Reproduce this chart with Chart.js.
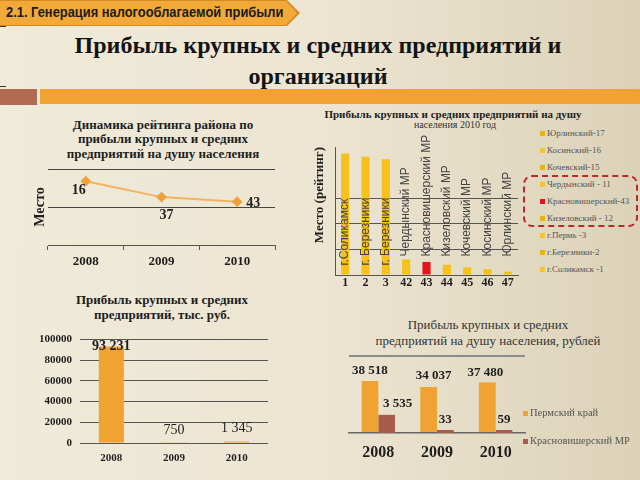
<!DOCTYPE html>
<html>
<head>
<meta charset="utf-8">
<script src="https://cdn.jsdelivr.net/npm/chart.js@4.4.0/dist/chart.umd.min.js"></script>
<style>
  body {
    margin: 0; width: 640px; height: 480px; overflow: hidden; position: relative;
    font-family: "Liberation Serif", serif;
    background: linear-gradient(to right, #f0ead9 0%, #ece5d2 50%, #dcd2b8 100%);
  }
  .abs { position: absolute; }
  .tab-out { left: 0; top: 0; width: 300px; height: 26px; background: #d38c25;
    clip-path: polygon(0 0, 287px 0, 300px 13px, 287px 26px, 0 26px); }
  .tab-in { left: 0; top: 1px; width: 298px; height: 24px; background: #f2a937;
    clip-path: polygon(0 0, 286px 0, 297px 12px, 286px 24px, 0 24px); }
  .tab-text { left: 6px; top: 4px; font: bold 14px "Liberation Sans", sans-serif; color: #1c1c1c; white-space: nowrap;
    transform: scaleX(0.92); transform-origin: left top; }
  .title { left: 0; width: 636px; top: 30px; text-align: center; font: bold 24px/31px "Liberation Serif", serif; color: #141414; }
  .ctitle { text-align: center; color: #1e1e1e; white-space: nowrap; }
  .lg-row { display: flex; align-items: center; white-space: nowrap; color: #555; }
  .lg-box { display: inline-block; width: 5px; height: 5px; margin-right: 2px; }
  canvas { position: absolute; }
</style>
</head>
<body>
<div class="abs tab-out"></div>
<div class="abs tab-in"></div>
<div class="abs tab-text">2.1. Генерация налогооблагаемой прибыли</div>
<div class="abs" style="left:0;top:26px;width:6px;height:1px;background:#333"></div>
<div class="abs" style="left:0;top:86px;width:6px;height:1px;background:#333"></div>
<div class="abs title">Прибыль крупных и средних предприятий и<br>организаций</div>
<div class="abs" style="left:0;top:89px;width:37px;height:16px;background:#b06a52"></div>
<div class="abs" style="left:40px;top:89px;width:600px;height:15px;background:#f0a232"></div>

<div class="abs ctitle" style="left:40px;width:246px;top:118px;font:bold 13px/14.3px 'Liberation Serif',serif">Динамика рейтинга района по<br>прибыли крупных и средних<br>предприятий на душу населения</div>
<div class="abs ctitle" style="left:300px;width:306px;top:108px;font:bold 11px/13px 'Liberation Serif',serif">Прибыль крупных и средних предприятий на душу</div>
<div class="abs ctitle" style="left:300px;width:310px;top:119px;font:10px/12px 'Liberation Serif',serif;color:#333">населения 2010 год</div>
<div class="abs ctitle" style="left:40px;width:244px;top:292px;font:bold 13px/15px 'Liberation Serif',serif">Прибыль крупных и средних<br>предприятий, тыс. руб.</div>
<div class="abs ctitle" style="left:370px;width:236px;top:317px;font:13px/16px 'Liberation Serif',serif;color:#333">Прибыль крупных и средних<br>предприятий на душу населения, рублей</div>

<canvas id="rankChart" width="270" height="115" style="left:20px;top:160px"></canvas>
<canvas id="placeChart" width="223" height="195" style="left:300px;top:100px"></canvas>
<div id="placeLegend" class="abs" style="left:540px;top:125px;font:9px/17px 'Liberation Serif',serif"></div>
<div class="abs" style="left:523px;top:175px;width:111px;height:48px;border:2px dashed #c4232b;border-radius:9px"></div>
<canvas id="profitChart" width="255" height="142" style="left:20px;top:325px"></canvas>
<canvas id="perCapitaChart" width="200" height="119" style="left:330px;top:346px"></canvas>
<div id="perCapitaLegend" class="abs" style="left:523px;top:399px;font:10.5px/28px 'Liberation Serif',serif"></div>

<script>
// рейтинг района по годам
const rankYears = ['2008', '2009', '2010'];
const rankPlaces = [16, 37, 43];

// прибыль на душу населения 2010 г., по местам в рейтинге
const placeLabels = ['1', '2', '3', '42', '43', '44', '45', '46', '47'];
const placeNames = ['г.Соликамск', 'г. Березники', 'г. Березники', 'Чердынский МР', 'Красновишерский МР',
  'Кизеловский МР', 'Кочевский МР', 'Косинский МР', 'Юрлинский МР'];
const placeValues = [47.5, 46.2, 45.2, 6.1, 5.1, 4.0, 3.0, 2.3, 1.3];
const legendNames = ['Юрлинский-17', 'Косинский-16', 'Кочевский-15', 'Чердынский - 11', 'Красновишерский-43',
  'Кизеловский - 12', 'г.Пермь -3', 'г.Березники-2', 'г.Соликамск -1'];
const legendColors = ['#e8b410', '#f2c531', '#e8b410', '#f2c531', '#e3141c', '#e8b410', '#f2c531', '#e8b410', '#f2c531'];

// прибыль, тыс. руб.
const profitYears = ['2008', '2009', '2010'];
const profitValues = [93231, 750, 1345];
const profitTicks = [0, 20000, 40000, 60000, 80000, 100000];

// прибыль на душу населения, руб.
const perCapitaYears = ['2008', '2009', '2010'];
const perCapitaKrai = [38518, 34037, 37480];
const perCapitaMR = [3535, 33, 59];

const SERIF = '"Liberation Serif", serif';
Chart.defaults.font.family = SERIF;
Chart.defaults.color = '#1e1e1e';

function spaced(v) {
  return String(v).replace(/\B(?=(\d{3})+(?!\d))/g, ' ');
}

// подписи значений над точками / столбцами
const valueLabels = {
  id: 'valueLabels',
  afterDatasetsDraw(chart, args, opts) {
    const ctx = chart.ctx;
    ctx.save();
    ctx.fillStyle = opts.color || '#1e1e1e';
    ctx.textAlign = 'center';
    ctx.textBaseline = 'middle';
    chart.data.datasets.forEach((ds, di) => {
      const meta = chart.getDatasetMeta(di);
      const shift = (opts.shift && opts.shift[di]) || [];
      meta.data.forEach((el, i) => {
        const d = shift[i] || [0, 0];
        ctx.font = typeof opts.font === 'function' ? opts.font(i, di) : opts.font;
        ctx.fillText(spaced(ds.data[i]), el.x + d[0], el.y + d[1]);
      });
    });
    ctx.restore();
  }
};

// вертикальные названия над столбцами
const barNames = {
  id: 'barNames',
  afterDatasetsDraw(chart, args, opts) {
    const ctx = chart.ctx;
    const meta = chart.getDatasetMeta(0);
    ctx.save();
    ctx.font = opts.font;
    ctx.fillStyle = opts.color;
    ctx.textAlign = 'left';
    ctx.textBaseline = 'middle';
    meta.data.forEach((el, i) => {
      const tall = el.base - el.y > 30;
      const y = tall ? el.base - 9 : Math.min(el.y - 2, el.base - 18);
      ctx.save();
      ctx.translate(el.x, y);
      ctx.rotate(-Math.PI / 2);
      ctx.fillText(opts.names[i], 0, 0);
      ctx.restore();
    });
    ctx.restore();
  }
};

// легенда в html-блоке
const htmlLegend = {
  id: 'htmlLegend',
  afterUpdate(chart, args, opts) {
    const box = document.getElementById(opts.containerID);
    box.innerHTML = '';
    chart.options.plugins.legend.labels.generateLabels(chart).forEach(item => {
      const row = document.createElement('div');
      row.className = 'lg-row';
      const sw = document.createElement('span');
      sw.className = 'lg-box';
      sw.style.background = item.fillStyle;
      const tx = document.createElement('span');
      tx.textContent = item.text;
      row.append(sw, tx);
      box.append(row);
    });
  }
};

const base = { responsive: false, animation: false, devicePixelRatio: 1 };

// линия места в рейтинге; холст в программном режиме, иначе тонкие линии сетки пропадали
const rankCanvas = document.getElementById('rankChart');
const rankCtx = rankCanvas.getContext('2d', { willReadFrequently: true });
new Chart(rankCtx, {
  type: 'bar',
  data: {
    labels: rankYears,
    datasets: [{
      type: 'line',
      data: rankPlaces,
      borderColor: '#f3b262',
      borderWidth: 2,
      pointStyle: 'rectRot',
      pointRadius: 4,
      pointBackgroundColor: '#f0a03c',
      pointBorderColor: '#f0a03c'
    }]
  },
  options: {
    ...base,
    layout: { padding: { top: 9, right: 15 } },
    plugins: {
      legend: { display: false },
      tooltip: { enabled: false },
      valueLabels: { font: 'bold 14px ' + SERIF, shift: [[[-7, 9], [5, 18], [16, 2]]] }
    },
    scales: {
      x: {
        afterFit: s => { s.height = 30; },
        grid: { drawOnChartArea: false, tickLength: 5, color: '#555' },
        border: { color: '#555' },
        ticks: { font: { size: 13, weight: 'bold' }, padding: 4, color: '#1e1e1e' }
      },
      y: {
        reverse: true, min: 0, max: 100,
        afterFit: s => { s.width = 28; },
        ticks: { display: false, stepSize: 50 },
        grid: { drawTicks: false, color: '#444' },
        border: { display: false },
        title: { display: true, text: 'Место', font: { size: 14, weight: 'bold' }, padding: { top: 12, bottom: 0 }, color: '#1e1e1e' }
      }
    }
  },
  plugins: [valueLabels]
});
rankCtx.getImageData(0, 0, 1, 1);

new Chart(document.getElementById('placeChart'), {
  type: 'bar',
  data: {
    labels: placeLabels,
    datasets: [{
      data: placeValues,
      backgroundColor: placeLabels.map(p => p === '43' ? '#e8141c' : '#f5c11a'),
      categoryPercentage: 0.8,
      barPercentage: 0.5
    }]
  },
  options: {
    ...base,
    layout: { padding: { top: 47, right: 5 } },
    plugins: {
      legend: {
        display: false,
        labels: {
          generateLabels: () => legendNames.map((n, i) => ({ text: n, fillStyle: legendColors[i] }))
        }
      },
      tooltip: { enabled: false },
      htmlLegend: { containerID: 'placeLegend' },
      barNames: { names: placeNames, font: '12px "Liberation Sans", sans-serif', color: '#444' }
    },
    scales: {
      x: {
        afterFit: s => { s.height = 20; },
        grid: { display: false, drawTicks: false },
        border: { color: '#555' },
        ticks: { font: { size: 12, weight: 'bold' }, padding: 1, color: '#1e1e1e' }
      },
      y: {
        min: 0, max: 50,
        afterFit: s => { s.width = 35; },
        ticks: { display: false, stepSize: 10 },
        grid: { drawTicks: false, color: c => (c.tick.value > 0 && c.tick.value <= 30) ? '#555' : 'transparent' },
        border: { color: '#555' },
        title: { display: true, align: 'end', text: 'Место (рейтинг)', font: { size: 13, weight: 'bold' }, padding: { top: 12, bottom: 0 }, color: '#1e1e1e' }
      }
    }
  },
  plugins: [barNames, htmlLegend]
});

new Chart(document.getElementById('profitChart'), {
  type: 'bar',
  data: {
    labels: profitYears,
    datasets: [{
      data: profitValues,
      backgroundColor: '#f0a232',
      categoryPercentage: 0.8,
      barPercentage: 0.5
    }]
  },
  options: {
    ...base,
    layout: { padding: { top: 8, right: 7 } },
    plugins: {
      legend: { display: false },
      tooltip: { enabled: false },
      valueLabels: {
        font: i => (i === 0 ? 'bold ' : '') + '14px ' + SERIF,
        shift: [[[0, 0], [0, -12], [0, -13]]]
      }
    },
    scales: {
      x: {
        afterFit: s => { s.height = 24; },
        grid: { display: false, drawTicks: false },
        border: { display: false },
        ticks: { font: { size: 11, weight: 'bold' }, padding: 9, color: '#1e1e1e' }
      },
      y: {
        min: 0, max: 100000,
        afterFit: s => { s.width = 60; },
        afterBuildTicks: s => { s.ticks = profitTicks.map(v => ({ value: v })); },
        ticks: { padding: 8, font: { size: 11, weight: 'bold' }, color: '#1e1e1e', callback: v => String(v) },
        grid: { drawTicks: false, color: '#555' },
        border: { display: false }
      }
    }
  },
  plugins: [valueLabels]
});

new Chart(document.getElementById('perCapitaChart'), {
  type: 'bar',
  data: {
    labels: perCapitaYears,
    datasets: [
      { label: 'Пермский край', data: perCapitaKrai, backgroundColor: '#f0a232', yAxisID: 'y',
        categoryPercentage: 0.57, barPercentage: 1 },
      { label: 'Красновишерский МР', data: perCapitaMR, backgroundColor: '#a85c4c', yAxisID: 'y2',
        categoryPercentage: 0.57, barPercentage: 1, minBarLength: 3 }
    ]
  },
  options: {
    ...base,
    layout: { padding: { top: 10, left: 19, right: 5 } },
    plugins: {
      legend: { display: false },
      tooltip: { enabled: false },
      htmlLegend: { containerID: 'perCapitaLegend' },
      valueLabels: {
        font: 'bold 13px ' + SERIF,
        shift: [[[0, -10], [5, -11], [-2, -10]], [[11, -11], [0, -10], [0, -10]]]
      }
    },
    scales: {
      x: {
        afterFit: s => { s.height = 32; },
        grid: { display: false, drawTicks: false },
        border: { color: '#666', width: 1.5 },
        ticks: { font: { size: 16, weight: 'bold' }, padding: 10, color: '#1e1e1e' }
      },
      y: {
        min: 0, max: 57000,
        afterFit: s => { s.width = 0; },
        ticks: { display: false, stepSize: 57000 },
        grid: { drawTicks: false, lineWidth: 2, color: c => c.tick.value > 0 ? '#8c8c8c' : 'transparent' },
        border: { display: false }
      },
      y2: { display: false, min: 0, max: 15000 }
    }
  },
  plugins: [valueLabels, htmlLegend]
});
</script>
</body>
</html>
